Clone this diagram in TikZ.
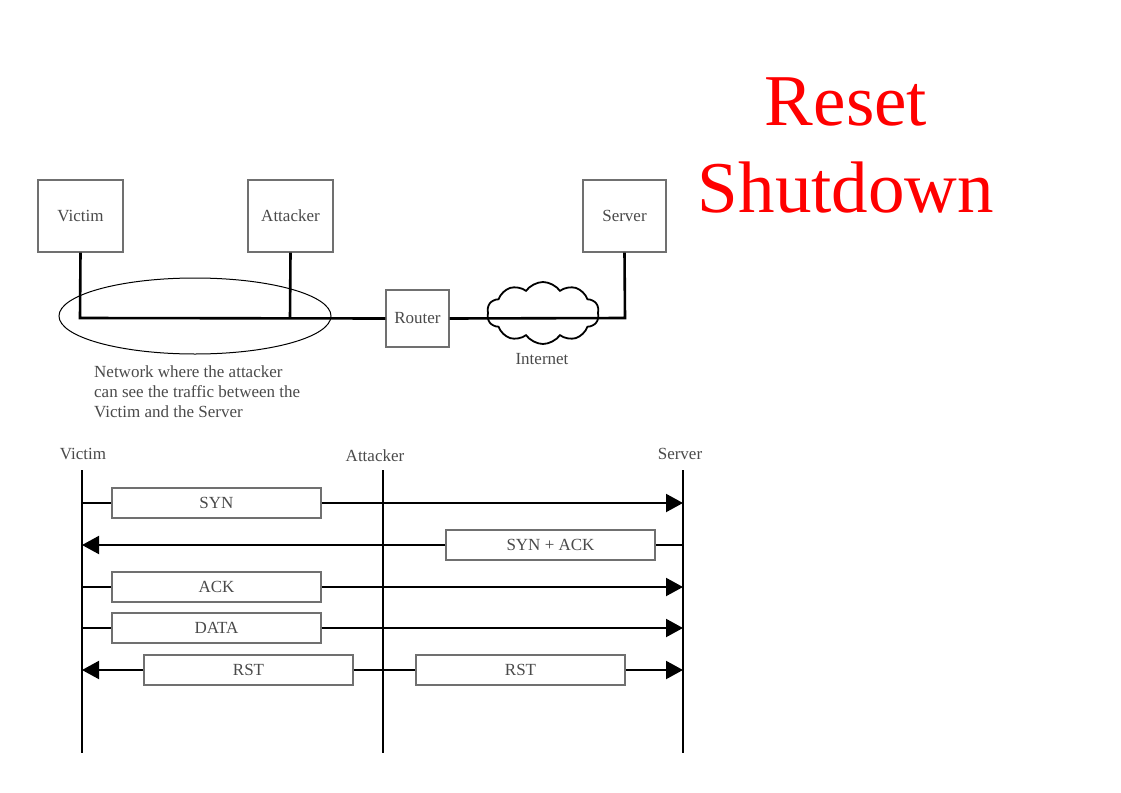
\documentclass[tikz,border=0pt]{standalone}
\usepackage{fontspec}
\setmainfont{Liberation Serif}
\usetikzlibrary{shapes.geometric,shapes.symbols,arrows.meta}
\definecolor{txt}{HTML}{4A4A4A}
\definecolor{boxline}{HTML}{707070}
\tikzset{
  hostbox/.style={draw=boxline, line width=1.2pt, fill=white, text=txt, font=\fontsize{17}{19}\selectfont, inner sep=0pt},
  msgbox/.style={draw=boxline, line width=1.2pt, fill=white, text=txt, font=\fontsize{17}{19}\selectfont, minimum width=209pt, minimum height=30pt, inner sep=0pt},
  netline/.style={line width=2.6pt},
  lifeline/.style={line width=2pt},
  msg/.style={line width=2pt},
  msgarrow/.style={line width=2pt, -{Triangle[length=17pt,width=18pt]}},
  lbl/.style={text=txt, font=\fontsize{17}{19}\selectfont, inner sep=0pt},
}
\begin{document}
\begin{tikzpicture}[x=1pt,y=-1pt]
\useasboundingbox (0,0) rectangle (1121,792);
% title
\node[text=red, font=\fontsize{73}{87}\selectfont, align=center] (title) at (846,145) {Reset\\Shutdown};
% network
\node[hostbox, minimum width=85pt, minimum height=72pt] (victim) at (80.5,216) {Victim};
\node[hostbox, minimum width=85pt, minimum height=72pt] (attacker) at (290.5,216) {Attacker};
\node[hostbox, minimum width=83pt, minimum height=72pt] (server) at (624.5,216) {Server};
\node[hostbox, minimum width=63pt, minimum height=57pt] (router) at (417.5,318.5) {Router};
\node[draw, ellipse, line width=1pt, minimum width=272pt, minimum height=76pt] (lan) at (195,316) {};
\node[cloud, draw, line width=1.8pt, cloud puffs=10, cloud puff arc=110, aspect=1.9, minimum width=112pt, minimum height=62pt, inner sep=0pt] (cloud) at (543,313) {};
\node[lbl] (inet) at (542,359) {Internet};
\coordinate (vj) at (80,318);
\coordinate (aj) at (290,318);
\coordinate (sj) at (625,318);
\draw[netline] (victim.south) -- (vj) -- (router.west);
\draw[netline] (attacker.south) -- (aj);
\draw[netline] (router.east) -- (sj) -- (server.south);
\node[lbl, anchor=north west, align=left, font=\fontsize{17}{20}\selectfont] (note) at (94,365) {Network where the attacker\\can see the traffic between the\\Victim and the Server};
% sequence diagram
\node[lbl] (vl) at (83,454) {Victim};
\node[lbl] (al) at (375,456) {Attacker};
\node[lbl] (sl) at (680,454) {Server};
\coordinate (vt) at (82,470); \coordinate (vb) at (82,753);
\coordinate (at) at (383,470); \coordinate (ab) at (383,753);
\coordinate (st) at (683,470); \coordinate (sb) at (683,753);
\draw[lifeline] (vt) -- (vb);
\draw[lifeline] (at) -- (ab);
\draw[lifeline] (st) -- (sb);
% messages
\coordinate (v1) at (82,503); \coordinate (s1) at (683,503);
\coordinate (v2) at (82,545); \coordinate (s2) at (683,545);
\coordinate (v3) at (82,587); \coordinate (s3) at (683,587);
\coordinate (v4) at (82,628); \coordinate (s4) at (683,628);
\coordinate (v5) at (82,670); \coordinate (s5) at (683,670);
\node[msgbox] (syn) at (216.5,503) {SYN};
\node[msgbox] (synack) at (550.5,545) {SYN + ACK};
\node[msgbox] (ack) at (216.5,587) {ACK};
\node[msgbox] (data) at (216.5,628) {DATA};
\node[msgbox] (rst1) at (248.5,670) {RST};
\node[msgbox] (rst2) at (520.5,670) {RST};
\draw[msg] (v1) -- (syn.west);
\draw[msgarrow] (syn.east) -- (s1);
\draw[msg] (s2) -- (synack.east);
\draw[msgarrow] (synack.west) -- (v2);
\draw[msg] (v3) -- (ack.west);
\draw[msgarrow] (ack.east) -- (s3);
\draw[msg] (v4) -- (data.west);
\draw[msgarrow] (data.east) -- (s4);
\draw[msgarrow] (rst1.west) -- (v5);
\draw[msg] (rst1.east) -- (rst2.west);
\draw[msgarrow] (rst2.east) -- (s5);
\end{tikzpicture}
\end{document}
